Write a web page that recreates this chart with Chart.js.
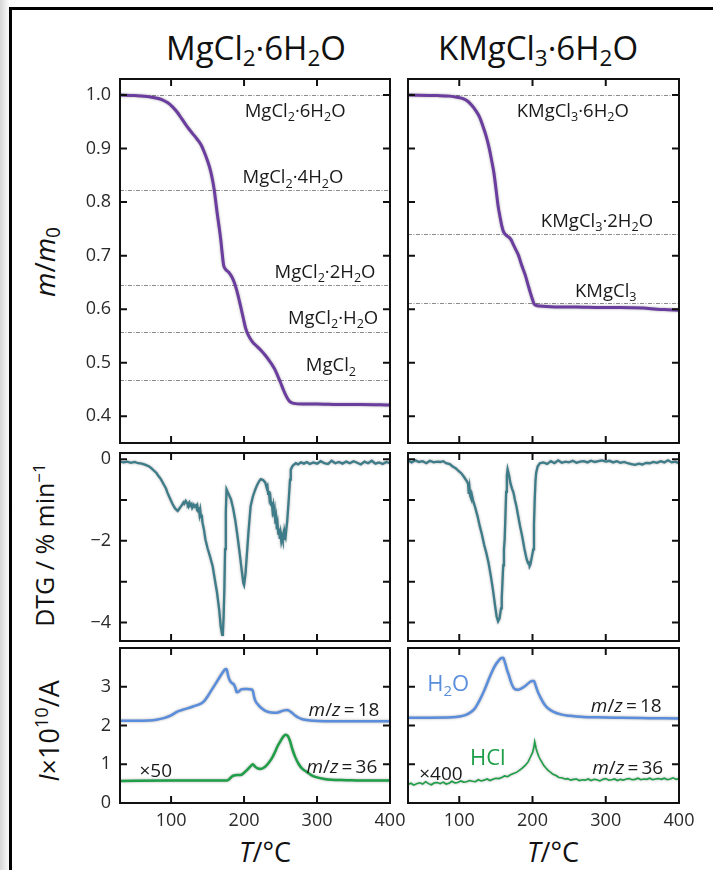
<!DOCTYPE html>
<html>
<head>
<meta charset="utf-8">
<script src="https://cdn.jsdelivr.net/npm/chart.js@4.4.1/dist/chart.umd.min.js"></script>
<style>
  body { margin: 0; background: #fff; }
  #fig { position: relative; width: 713px; height: 870px; overflow: hidden; font-family: "Open Sans", sans-serif; color: #111; background: #fff; }
  #fig canvas { position: absolute; }
  .edge { position: absolute; left: 0; top: 0; width: 9px; height: 870px; background: linear-gradient(to right, #d6d6d6, #fbfbfb); }
  .frame { position: absolute; left: 9px; top: 7px; width: 720px; height: 880px; border-left: 3px solid #000; border-top: 3px solid #000; }
  .title { position: absolute; transform: translate(-50%, -50%); white-space: nowrap; }
  .ytitle { position: absolute; transform: translate(-50%, -50%) rotate(-90deg); white-space: nowrap; }
  sub { font-size: 0.68em; vertical-align: -0.28em; line-height: 0; }
  sup { font-size: 0.68em; vertical-align: 0.55em; line-height: 0; }
</style>
</head>
<body>
<div id="fig">
  <div class="edge"></div>
  <div class="frame"></div>
  <div class="title" style="left:256px;top:47px;font-size:33px">MgCl<sub>2</sub>·6H<sub>2</sub>O</div>
  <div class="title" style="left:538px;top:47px;font-size:33px">KMgCl<sub>3</sub>·6H<sub>2</sub>O</div>
  <div class="ytitle" style="left:44px;top:262px;font-size:28px"><i>m</i>/<i>m</i><sub>0</sub></div>
  <div class="ytitle" style="left:44px;top:545px;font-size:25px">DTG / % min<sup>−1</sup></div>
  <div class="ytitle" style="left:48px;top:731px;font-size:27px"><i>I</i>×10<sup>10</sup>/A</div>
  <div class="title" style="left:265px;top:851px;font-size:27px"><i>T</i>/°C</div>
  <div class="title" style="left:553px;top:851px;font-size:27px"><i>T</i>/°C</div>
</div>
<script>
// temperature axis shared by all panels
const xMin = 30, xMax = 400, xStep = 100;

// TG: MgCl2·6H2O
const mgMassT = [30,50,70,81,88,95,102,109,115,122, 129,136,141,145,150,154,157,159,161,163, 166,168,170,172,175,179,183,186,190,195, 199,202,206,211,218,224,229,234,238,242, 246,250,254,258,261,264,268,280,300,330, 360,400];
const mgMassV = [1.000,0.999,0.997,0.994,0.991,0.986,0.978,0.967,0.955,0.941, 0.929,0.917,0.907,0.895,0.877,0.859,0.840,0.824,0.803,0.781, 0.752,0.731,0.705,0.682,0.674,0.669,0.661,0.652,0.635,0.607, 0.583,0.565,0.551,0.540,0.530,0.522,0.514,0.505,0.497,0.488, 0.476,0.463,0.449,0.437,0.430,0.426,0.424,0.423,0.423,0.422, 0.422,0.421];

// TG: KMgCl3·6H2O
const kMassT = [30,70,87,97,106,112,117,122,128,132, 137,141,144,147,149,151,153,156,158,160, 162,165,168,171,174,178,181,185,190,194, 197,200,202,205,210,219,240,260,292,320, 351,370,385,400];
const kMassV = [1.000,0.999,0.998,0.996,0.993,0.988,0.981,0.972,0.958,0.943, 0.922,0.900,0.879,0.857,0.837,0.815,0.793,0.770,0.756,0.746, 0.741,0.737,0.734,0.729,0.720,0.709,0.700,0.683,0.664,0.645, 0.631,0.618,0.610,0.607,0.606,0.605,0.604,0.604,0.603,0.603, 0.602,0.600,0.599,0.598];

// hydrate levels (theoretical m/m0)
const mgPhases = ['MgCl_2·6H_2O', 'MgCl_2·4H_2O', 'MgCl_2·2H_2O', 'MgCl_2·H_2O', 'MgCl_2'];
const mgLevels = [1.0, 0.823, 0.646, 0.557, 0.468];
const kPhases = ['KMgCl_3·6H_2O', 'KMgCl_3·2H_2O', 'KMgCl_3'];
const kLevels = [1.0, 0.741, 0.611];

// DTG: MgCl2·6H2O
const mgDtgT = [30,35,40,45,50,55,60,65,70,74,
  77,80,83,86,90,93,95,97,99,102,
  104,106,108,109,111,113,115,117,118,120,
  122,123,125,126,128,129,131,132,134,135,
  136,137,138,139,140,141,142,143,145,147,
  150,153,157,160,163,166,168,170,171,172,
  173,174,175,176,178,180,182,185,188,191,
  194,197,199,200,202,204,206,209,212,215,
  218,221,223,226,229,231,232,233,234,235,
  236,237,238,239,240,241,242,243,244,245,
  246,247,248,249,250,251,252,253,254,255,
  256,257,258,259,261,263,264,266,268,271,
  274,278,282,286,290,295,300,305,310,315,
  320,325,330,335,340,345,350,355,360,365,
  370,375,380,385,390,395,400];
const mgDtgV = [-0.06,-0.08,-0.06,-0.09,-0.07,-0.10,-0.11,-0.14,-0.18,-0.24,
  -0.29,-0.34,-0.42,-0.49,-0.62,-0.72,-0.82,-0.90,-0.98,-1.10,
  -1.16,-1.22,-1.25,-1.27,-1.22,-1.17,-1.12,-1.06,-1.09,-1.02,
  -1.08,-1.12,-1.06,-1.14,-1.10,-1.19,-1.12,-1.16,-1.13,-1.20,
  -1.15,-1.28,-1.18,-1.35,-1.25,-1.42,-1.36,-1.55,-1.72,-1.96,
  -2.18,-2.36,-2.62,-2.95,-3.27,-3.70,-4.09,-4.30,-4.25,-3.85,
  -3.19,-2.20,-1.30,-0.74,-0.82,-0.90,-0.98,-1.20,-1.50,-1.88,
  -2.30,-2.75,-3.03,-3.08,-2.80,-2.30,-1.80,-1.15,-0.92,-0.76,
  -0.63,-0.53,-0.49,-0.51,-0.57,-0.70,-0.66,-0.85,-0.78,-0.98,
  -0.92,-1.12,-1.05,-1.25,-1.15,-1.40,-1.28,-1.58,-1.45,-1.72,
  -1.60,-1.85,-1.70,-1.95,-1.82,-2.00,-1.90,-1.98,-1.85,-1.95,
  -1.80,-1.88,-1.70,-1.55,-1.05,-0.50,-0.26,-0.18,-0.14,-0.10,
  -0.13,-0.08,-0.11,-0.07,-0.12,-0.08,-0.11,-0.05,-0.10,-0.12,
  -0.04,-0.10,-0.07,-0.11,-0.06,-0.10,-0.05,-0.09,-0.13,-0.06,
  -0.10,-0.04,-0.11,-0.08,-0.12,-0.07,-0.10];

// DTG: KMgCl3·6H2O
const kDtgT = [30,35,40,45,50,55,60,65,70,74,
  78,82,87,91,95,99,103,107,110,112,
  113,114,115,116,117,119,122,125,128,131,
  134,137,140,143,146,149,151,153,155,157,
  158,159,160,161,162,163,164,165,166,168,
  170,172,174,176,178,180,183,186,189,192,
  194,195,196,197,199,201,202,203,204,205,
  207,210,215,220,225,230,235,240,245,250,
  255,260,265,270,275,280,285,290,295,300,
  305,310,315,320,325,330,335,340,345,350,
  355,360,365,370,375,380,385,390,395,400];
const kDtgV = [-0.04,-0.08,-0.03,-0.07,-0.05,-0.10,-0.04,-0.08,-0.06,-0.07,
  -0.05,-0.10,-0.12,-0.18,-0.22,-0.29,-0.35,-0.45,-0.53,-0.60,
  -0.85,-0.70,-0.90,-0.95,-0.86,-1.02,-1.20,-1.40,-1.64,-1.85,
  -2.10,-2.30,-2.54,-2.85,-3.20,-3.60,-3.85,-3.97,-3.90,-3.65,
  -3.40,-3.00,-2.60,-2.20,-1.96,-1.40,-0.80,-0.40,-0.25,-0.40,
  -0.60,-0.72,-0.82,-1.00,-1.15,-1.35,-1.64,-1.90,-2.20,-2.45,
  -2.55,-2.50,-2.62,-2.58,-2.40,-2.21,-1.60,-1.00,-0.55,-0.33,
  -0.18,-0.10,-0.08,-0.12,-0.05,-0.10,-0.03,-0.09,-0.06,-0.08,
  -0.04,-0.09,-0.06,-0.05,-0.08,-0.04,-0.07,-0.05,-0.03,-0.06,
  -0.04,-0.08,-0.05,-0.09,-0.07,-0.10,-0.12,-0.14,-0.11,-0.13,
  -0.09,-0.10,-0.07,-0.09,-0.05,-0.08,-0.03,-0.08,-0.06,-0.10];

// MS ion currents, MgCl2·6H2O: m/z 18 and m/z 36 (x50)
const mgH2oT = [30,50,70,80,90,100,105,110,115,120, 130,140,145,150,155,160,165,170,174,176, 178,180,183,186,188,190,193,196,200,205, 210,212,214,216,220,225,230,235,240,245, 250,255,259,262,266,270,275,280,286,295, 310,330,360,400];
const mgH2oV = [2.12,2.12,2.13,2.15,2.19,2.26,2.32,2.37,2.40,2.43, 2.49,2.56,2.62,2.75,2.90,3.05,3.20,3.35,3.45,3.46, 3.30,3.18,3.10,3.06,2.98,2.86,2.88,2.93,2.94,2.94, 2.93,2.90,2.72,2.62,2.52,2.43,2.37,2.34,2.33,2.33, 2.36,2.39,2.40,2.38,2.32,2.26,2.20,2.16,2.14,2.12, 2.11,2.11,2.11,2.11];
const mgHclT = [30,100,150,177,180,183,186,190,195,200, 205,209,212,215,219,223,228,233,238,242, 246,250,254,257,260,263,266,270,275,280, 286,292,300,310,320,340,360,400];
const mgHclV = [0.57,0.58,0.58,0.58,0.62,0.68,0.71,0.72,0.72,0.78, 0.87,0.95,1.00,0.94,0.89,0.88,0.92,1.02,1.15,1.30, 1.47,1.60,1.72,1.76,1.73,1.60,1.40,1.19,1.00,0.88, 0.80,0.72,0.66,0.62,0.60,0.59,0.58,0.58];

// MS ion currents, KMgCl3·6H2O: m/z 18 and m/z 36 (x400)
const kH2oT = [30,60,90,100,110,117,122,128,134,140, 145,150,154,157,160,162,165,168,171,175, 180,185,190,195,199,202,204,207,211,215, 220,228,240,251,270,288,320,360,400];
const kH2oV = [2.20,2.20,2.21,2.23,2.28,2.36,2.46,2.66,2.90,3.18, 3.40,3.58,3.68,3.74,3.75,3.65,3.45,3.28,3.10,2.95, 2.92,2.96,3.02,3.10,3.15,3.15,3.05,2.88,2.72,2.58, 2.46,2.36,2.28,2.25,2.22,2.21,2.20,2.19,2.18];
const kHclT = [30,34,38,42,46,50,54,58,62,66, 70,74,78,82,86,90,94,98,102,106,
  110,114,118,122,126,130,134,138,142,146, 150,154,158,162,166,170,174,178,182,186,
  190,194,197,200,202,203,205,207,209,212, 215,218,221,224,228,232,236,240,244,248,
  252,256,260,264,268,272,276,280,284,288, 292,296,300,304,308,312,316,320,324,328,
  332,336,340,344,348,352,356,360,364,368, 372,376,380,384,388,392,396,400];
const kHclV = [0.48,0.51,0.46,0.50,0.52,0.49,0.55,0.50,0.47,0.52, 0.53,0.50,0.54,0.49,0.51,0.56,0.52,0.53,0.57,0.54,
  0.55,0.58,0.56,0.55,0.60,0.57,0.59,0.62,0.58,0.61, 0.64,0.63,0.66,0.70,0.68,0.73,0.76,0.79,0.84,0.90,
  0.97,1.06,1.18,1.30,1.45,1.58,1.40,1.28,1.18,1.08, 0.98,0.91,0.85,0.80,0.74,0.71,0.66,0.65,0.62,0.63,
  0.59,0.61,0.62,0.58,0.60,0.59,0.62,0.58,0.61,0.60, 0.57,0.61,0.63,0.59,0.60,0.62,0.58,0.61,0.59,0.62,
  0.63,0.60,0.61,0.64,0.60,0.62,0.61,0.64,0.60,0.62, 0.63,0.61,0.64,0.60,0.62,0.65,0.61,0.63];

const PURPLE = '#6a3d9f', TEAL = '#3d7c88', BLUE = '#5a8ddb', GREEN = '#1f9e48';
const FONT = "'Open Sans', sans-serif";

// text with '_' (next char subscript) and '*' (toggle italic), centred on x, y
function drawRich(ctx, text, x, y, size, color) {
  const runs = [];
  let italic = false;
  for (let i = 0; i < text.length; i++) {
    const c = text[i];
    if (c === '*') { italic = !italic; continue; }
    if (c === '_') { runs.push({ t: text[++i], sub: true, italic }); continue; }
    runs.push({ t: c, sub: false, italic });
  }
  const fontFor = r => (r.italic ? 'italic ' : '') + (r.sub ? size * 0.68 : size) + 'px ' + FONT;
  let w = 0;
  runs.forEach(r => { ctx.font = fontFor(r); r.w = ctx.measureText(r.t).width; w += r.w; });
  let cx = x - w / 2;
  const base = y + size * 0.36;
  ctx.fillStyle = color;
  ctx.textAlign = 'left';
  ctx.textBaseline = 'alphabetic';
  runs.forEach(r => {
    ctx.font = fontFor(r);
    ctx.fillText(r.t, cx, r.sub ? base + size * 0.22 : base);
    cx += r.w;
  });
}

// frame, inward ticks, level lines and labels
const panelPlugin = {
  id: 'panel',
  beforeDatasetsDraw(chart, args, opts) {
    const { ctx, chartArea: a, scales: { y } } = chart;
    ctx.save();
    ctx.strokeStyle = '#8a8a8a';
    ctx.lineWidth = 1;
    ctx.setLineDash([4, 1.5, 1, 1.5]);
    (opts.levels || []).forEach(v => {
      const py = Math.round(y.getPixelForValue(v)) + 0.5;
      ctx.beginPath();
      ctx.moveTo(a.left, py);
      ctx.lineTo(a.right, py);
      ctx.stroke();
    });
    ctx.restore();
  },
  beforeDatasetDraw(chart) {
    const ctx = chart.ctx;
    ctx.save();
    ctx.shadowColor = 'rgba(0,0,0,0.35)';
    ctx.shadowBlur = 2.5;
  },
  afterDatasetDraw(chart) {
    chart.ctx.restore();
  },
  afterDraw(chart, args, opts) {
    const { ctx, chartArea: a, scales: { x, y } } = chart;
    ctx.save();
    ctx.strokeStyle = '#111';
    ctx.lineWidth = 2;
    ctx.strokeRect(a.left, a.top, a.right - a.left, a.bottom - a.top);
    const len = 7;
    ctx.beginPath();
    x.ticks.forEach(t => {
      const px = x.getPixelForValue(t.value);
      if (px <= a.left + 2 || px >= a.right - 2) return;
      ctx.moveTo(px, a.top); ctx.lineTo(px, a.top + len);
      ctx.moveTo(px, a.bottom); ctx.lineTo(px, a.bottom - len);
    });
    y.ticks.forEach(t => {
      const py = y.getPixelForValue(t.value);
      if (py <= a.top + 2 || py >= a.bottom - 2) return;
      ctx.moveTo(a.left, py); ctx.lineTo(a.left + len, py);
      ctx.moveTo(a.right, py); ctx.lineTo(a.right - len, py);
    });
    ctx.stroke();
    (opts.notes || []).forEach(n => {
      drawRich(ctx, n.text, x.getPixelForValue(n.x), y.getPixelForValue(n.y) + (n.dy || 0), n.size || 18.5, n.color || '#1a1a1a');
    });
    ctx.restore();
  }
};

// canvas placement for the two columns and three rows
const cols = {
  left: { left: 60, width: 350, padLeft: 0, yLabels: true },
  right: { left: 394, width: 305, padLeft: 14, yLabels: false }
};
const rows = {
  tg: { top: 65, height: 392, xLabels: false },
  dtg: { top: 439, height: 216, xLabels: false },
  ms: { top: 634, height: 209, xLabels: true }
};
const tickFont = { family: FONT, size: 18 };
const tickColor = '#2a2a2a';

function makePanel(col, row, series, yAxis, panel) {
  const c = cols[col], r = rows[row];
  const canvas = document.createElement('canvas');
  canvas.width = c.width;
  canvas.height = r.height;
  canvas.style.left = c.left + 'px';
  canvas.style.top = r.top + 'px';
  document.getElementById('fig').appendChild(canvas);

  new Chart(canvas, {
    type: 'line',
    data: {
      datasets: series.map(s => ({
        data: s.t.map((t, i) => ({ x: t, y: s.v[i] })),
        borderColor: s.color,
        borderWidth: s.width,
        pointRadius: 0,
        tension: 0,
        cubicInterpolationMode: s.smooth ? 'monotone' : 'default'
      }))
    },
    options: {
      responsive: false,
      animation: false,
      events: [],
      layout: { padding: { left: c.padLeft, right: 20, top: 14, bottom: r.xLabels ? 0 : 14 } },
      plugins: { legend: { display: false }, tooltip: { enabled: false }, panel },
      scales: {
        x: {
          type: 'linear', min: xMin, max: xMax, display: r.xLabels,
          grid: { display: false, drawTicks: false }, border: { display: false },
          ticks: { stepSize: xStep, includeBounds: false, autoSkip: false, maxRotation: 0, padding: 7, font: tickFont, color: tickColor, callback: v => String(v) },
          afterFit: s => { s.height = r.xLabels ? 40 : 0; s.paddingLeft = 0; s.paddingRight = 0; }
        },
        y: {
          type: 'linear', min: yAxis.min, max: yAxis.max, display: c.yLabels,
          grid: { display: false, drawTicks: false }, border: { display: false },
          ticks: { stepSize: yAxis.step, includeBounds: false, autoSkip: false, padding: 9, font: tickFont, color: tickColor, callback: yAxis.format },
          afterFit: s => { s.width = c.yLabels ? 60 : 0; s.paddingTop = 0; s.paddingBottom = 0; }
        }
      }
    },
    plugins: [panelPlugin]
  });
}

const tgAxis = { min: 0.35, max: 1.03, step: 0.1, format: v => v.toFixed(1) };
const dtgAxis = { min: -4.45, max: 0.15, step: 1, format: v => (Math.round(v) % 2 === 0 ? (v < 0 ? '\u2212' : '') + Math.abs(Math.round(v)) : '') };
const msAxis = { min: 0, max: 4, step: 1, format: v => (v < 4 ? String(Math.round(v)) : '') };

// label positions: [temperature, pixel offset from the level line]
const mgPhaseAt = [[270, 15], [267, -13], [311, -13], [322, -15], [319, -15]];
const kPhaseAt = [[255, 15], [288, -13], [300, -13]];

makePanel('left', 'tg', [{ t: mgMassT, v: mgMassV, color: PURPLE, width: 3, smooth: true }], tgAxis, {
  levels: mgLevels,
  notes: mgPhases.map((p, i) => ({ text: p, x: mgPhaseAt[i][0], y: mgLevels[i], dy: mgPhaseAt[i][1] }))
});
makePanel('right', 'tg', [{ t: kMassT, v: kMassV, color: PURPLE, width: 3, smooth: true }], tgAxis, {
  levels: kLevels,
  notes: kPhases.map((p, i) => ({ text: p, x: kPhaseAt[i][0], y: kLevels[i], dy: kPhaseAt[i][1] }))
});

makePanel('left', 'dtg', [{ t: mgDtgT, v: mgDtgV, color: TEAL, width: 2.3 }], dtgAxis, {});
makePanel('right', 'dtg', [{ t: kDtgT, v: kDtgV, color: TEAL, width: 2.3 }], dtgAxis, {});

makePanel('left', 'ms', [
  { t: mgH2oT, v: mgH2oV, color: BLUE, width: 2.5, smooth: true },
  { t: mgHclT, v: mgHclV, color: GREEN, width: 2.5, smooth: true }
], msAxis, {
  notes: [
    { text: '*m*/*z*\u2009=\u200918', x: 337, y: 2.43, size: 19 },
    { text: '*m*/*z*\u2009=\u200936', x: 334, y: 0.95, size: 19 },
    { text: '×50', x: 79, y: 0.84, size: 19 }
  ]
});
makePanel('right', 'ms', [
  { t: kH2oT, v: kH2oV, color: BLUE, width: 2.5, smooth: true },
  { t: kHclT, v: kHclV, color: GREEN, width: 1.6 }
], msAxis, {
  notes: [
    { text: 'H_2O', x: 85, y: 3.1, size: 22, color: BLUE },
    { text: 'HCl', x: 139, y: 1.18, size: 22, color: GREEN },
    { text: '*m*/*z*\u2009=\u200918', x: 328, y: 2.53, size: 19 },
    { text: '*m*/*z*\u2009=\u200936', x: 330, y: 0.92, size: 19 },
    { text: '×400', x: 75, y: 0.77, size: 19 }
  ]
});
</script>
</body>
</html>
